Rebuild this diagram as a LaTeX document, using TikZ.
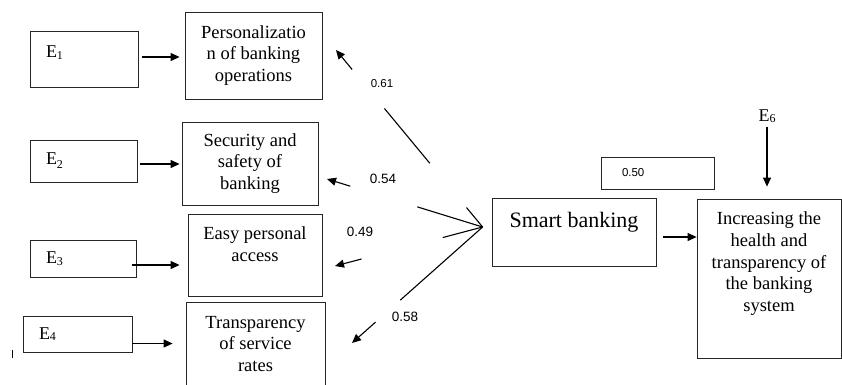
\documentclass[tikz,border=0pt]{standalone}
\usepackage{fontspec}
\setmainfont{Liberation Serif}
\newfontfamily\numfont{Liberation Sans}
\usetikzlibrary{arrows.meta}
\usetikzlibrary{positioning}
\usetikzlibrary{calc}
\tikzstyle{box}=[draw=black!85, line width=.8pt, inner sep=0pt]
\tikzstyle{txt}=[align=center, inner sep=0pt, font=\fontsize{18.5}{21.7}\selectfont]
\tikzstyle{ebox}=[box, align=left, inner xsep=16pt, font=\fontsize{18}{20}\selectfont]
\tikzstyle{coef}=[inner sep=0pt, font=\numfont\fontsize{13.5}{14}\selectfont]
\tikzstyle{arr}=[line width=1.1pt, -{Triangle[length=9pt,width=8pt]}]
\tikzstyle{seg}=[line width=1.1pt]
\newcommand\esub[2][-1.5pt]{E\raisebox{#1}{\fontsize{12}{12}\selectfont #2}}

\begin{document}
\begin{tikzpicture}[x=1pt,y=-1pt]
    \useasboundingbox (0,0) rectangle (842,384);

    % error terms
    \node[ebox, text width=76pt, minimum height=56pt, text depth=14pt] (e1) at (84,59) {\esub{1}};
    \node[ebox, text width=75pt, minimum height=42pt] (e2) at (83.5,161) {\esub[-4pt]{2}};
    \node[ebox, text width=74pt, minimum height=37pt] (e3) at (83,258.5) {\esub{3}};
    \node[ebox, text width=77pt, minimum height=36pt] (e4) at (77.5,334) {\esub{4}};

    % indicators
    \node[box, txt, minimum width=137pt, minimum height=87pt] (pers) at (253.5,55.5) {Personalizatio\\n of banking\\operations};
    \node[box, txt, minimum width=136pt, minimum height=83pt] (sec) at (250,163.5) {Security and\\safety of\\banking};
    \node[box, minimum width=134pt, minimum height=82pt] (easy) at (255,255) {};
    \node[txt, below=12.7pt of easy.north] (easytxt) {Easy personal\\access};
    \node[box, txt, minimum width=139pt, minimum height=84pt] (trans) at (255.5,344) {Transparency\\of service\\rates};

    % latent variables
    \node[box, minimum width=164pt, minimum height=68pt] (smart) at (574,232) {};
    \node[txt, font=\fontsize{22}{26}\selectfont, below=14pt of smart.north] (smarttxt) {Smart banking};
    \node[box, minimum width=144pt, minimum height=159pt] (health) at (769,278.5) {};
    \node[txt, below=13pt of health.north] (healthtxt) {Increasing the\\health and\\transparency of\\the banking\\system};
    \node[box, align=left, text width=71pt, inner xsep=21pt, minimum height=32pt, font=\numfont\fontsize{11.5}{12}\selectfont] (rsq) at (657.5,173) {0.50};
    \node[inner sep=0pt, font=\fontsize{18}{20}\selectfont] (e6) at (767,116) {\esub{6}};

    \draw[arr, shorten >=5pt] ([xshift=4pt,yshift=2pt]e1.east) coordinate (a1) -- (a1 -| pers.west);
    \draw[arr, shorten >=2pt] ([xshift=3pt,yshift=-3pt]e2.east) coordinate (a2) -- (a2 -| sec.west);
    \draw[arr, shorten >=8pt] ([xshift=-4pt,yshift=-6.5pt]e3.east) coordinate (a3) -- (a3 -| easy.west);
    \draw[arr, shorten >=13pt] ([yshift=-9.5pt]e4.east) coordinate (a4) -- (a4 -| trans.west);
    \draw[arr] ([xshift=7pt,yshift=-5pt]smart.east) coordinate (a5) -- (a5 -| health.west);
    \draw[arr, shorten <=4pt, shorten >=12pt] (e6) -- (e6 |- health.north);

    % loadings
    \coordinate (apex) at ([xshift=-9pt,yshift=5pt]smart.west);
    \coordinate (t61) at (336,50);
    \coordinate (t54) at (327,179);
    \coordinate (t49) at (335,266);
    \coordinate (t58) at (352,343);
    \draw[seg] (apex) -- ($(apex)!.11!(t61)$);
    \draw[seg] ($(apex)!.36!(t61)$) -- ($(apex)!.67!(t61)$);
    \draw[arr] ($(apex)!.89!(t61)$) -- (t61);
    \draw[seg] (apex) -- ($(apex)!.42!(t54)$);
    \draw[arr] ($(apex)!.85!(t54)$) -- (t54);
    \draw[seg] (apex) -- ($(apex)!.27!(t49)$);
    \draw[arr] ($(apex)!.82!(t49)$) -- (t49);
    \draw[seg] (apex) -- ($(apex)!.63!(t58)$);
    \draw[arr] ($(apex)!.82!(t58)$) -- (t58);
    \node[coef, font=\numfont\fontsize{11.5}{12}\selectfont] (c61) at (382,84) {0.61};
    \node[coef] (c54) at (383,179) {0.54};
    \node[coef] (c49) at (360,232) {0.49};
    \node[coef] (c58) at (405,317) {0.58};

    \draw[line width=.6pt] (12,350) -- (12,358);
\end{tikzpicture}
\end{document}
